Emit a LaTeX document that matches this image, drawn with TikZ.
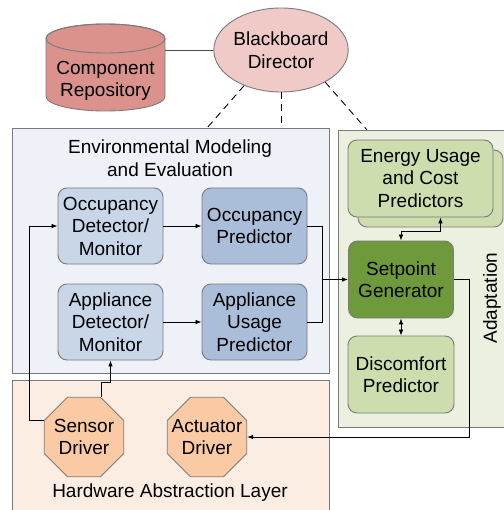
\documentclass[tikz,border=0pt]{standalone}
\usepackage{fontspec}
\setmainfont{Liberation Sans}
\usetikzlibrary{shapes.geometric,arrows.meta,calc}
\definecolor{repoC}{HTML}{DB928C}
\definecolor{bbC}{HTML}{F0CAC7}
\definecolor{emeC}{HTML}{EEF1F7}
\definecolor{detC}{HTML}{C8D6E8}
\definecolor{predC}{HTML}{AABEDA}
\definecolor{adaC}{HTML}{EBF0E0}
\definecolor{lgC}{HTML}{CDDDAD}
\definecolor{dgC}{HTML}{6E9A3C}
\definecolor{halC}{HTML}{FCEDE3}
\definecolor{octC}{HTML}{F9CAA3}
\definecolor{edgeC}{HTML}{7A7A7A}
\begin{document}
\begin{tikzpicture}[x=1pt,y=-1pt,
 every node/.style={font=\fontsize{19}{22.5}\selectfont, align=center, inner sep=0pt},
 panel/.style={draw=edgeC, line width=0.9pt, anchor=north west},
 rbox/.style={draw=edgeC, line width=0.9pt, rounded corners=9pt, minimum width=105pt, minimum height=76pt},
 oct/.style={regular polygon, regular polygon sides=8, minimum size=86pt, draw=edgeC, fill=octC, line width=0.9pt},
 arr/.style={-{Latex[length=6pt,width=4.5pt]}, line width=0.7pt},
 dbl/.style={{Latex[length=6pt,width=4.5pt]}-{Latex[length=6pt,width=4.5pt]}, line width=0.7pt},
 dline/.style={line width=0.9pt, dash pattern=on 7pt off 5pt},
 ]
\useasboundingbox (0,0) rectangle (503,510);

% panels
\node[panel, fill=emeC, minimum width=317pt, minimum height=245pt] (eme) at (12,128) {};
\node[panel, fill=adaC, minimum width=170pt, minimum height=297pt] (ada) at (338,130) {};
\node[panel, fill=halC, minimum width=317pt, minimum height=140pt] (hal) at (12,380) {};
\node (emet) at (170,158) {Environmental Modeling\\and Evaluation};
\node (halt) at (170,493) {Hardware Abstraction Layer};
\node[rotate=90] (adat) at (492,298) {Adaptation};

% repository cylinder
\fill[repoC, draw=edgeC, line width=0.9pt] (46,38.5) -- (46,96.5)
  arc[start angle=180, end angle=0, x radius=59.5, y radius=14.5] -- (165,38.5)
  arc[start angle=0, end angle=-180, x radius=59.5, y radius=14.5] -- cycle;
\draw[edgeC, line width=0.9pt] (105.5,38.5) ellipse[x radius=59.5, y radius=14.5];
\node[minimum width=119pt, minimum height=86pt] (repo) at (105.5,68) {};
\node (repot) at (105.5,81) {Component\\Repository};

% blackboard director
\node[ellipse, draw=edgeC, fill=bbC, line width=0.9pt, minimum width=124pt, minimum height=84pt] (bb) at (281,50) {Blackboard\\Director};
\draw[line width=0.8pt, edgeC!60!black] (bb.west) -- (bb.west -| repo.east);

\coordinate (d1) at (207,128);
\coordinate (d2) at (281,128);
\coordinate (d3) at (367,130);
\draw[dline] (bb.-136) -- (d1);
\draw[dline] (bb.south) -- (d2);
\draw[dline] (bb.-36) -- (d3);

% EME boxes
\node[rbox, fill=detC] (occdet) at (110.5,226) {Occupancy\\Detector/\\Monitor};
\node[rbox, fill=predC] (occpred) at (254.5,226) {Occupancy\\Predictor};
\node[rbox, fill=detC] (appdet) at (110.5,322) {Appliance\\Detector/\\Monitor};
\node[rbox, fill=predC] (apppred) at (254.5,322) {Appliance\\Usage\\Predictor};

% adaptation boxes
\node[rbox, fill=lgC, minimum width=145pt, minimum height=77pt] (energyb) at (430.5,188.5) {};
\node[rbox, fill=lgC, minimum width=145pt, minimum height=77pt] (energy) at (420.5,178.5) {Energy Usage\\and Cost\\Predictors};
\node[rbox, fill=dgC, minimum height=77pt] (setp) at (401,279.5) {Setpoint\\Generator};
\node[rbox, fill=lgC, minimum width=106pt, minimum height=77pt] (disc) at (401,374.5) {Discomfort\\Predictor};

% drivers
\node[oct, label={[name=sensort]center:Sensor\\Driver}] (sensor) at (84,437) {};
\node[oct, label={[name=actt]center:Actuator\\Driver}] (act) at (207,437) {};

% connectors
\draw[arr] (occdet) -- (occpred);
\draw[arr] (appdet) -- (apppred);
\draw[line width=0.7pt] (occpred.east) -- ++(15,0) |- (apppred.east);
\coordinate (j0) at ($(occpred.east)+(15,0)$);
\coordinate (j) at (j0 |- setp.west);
\draw[arr] (j) -- (setp.west);
\draw[arr] (setp.east) -- ++(15,0) |- (act.east);
\draw[dbl] (setp.north) -- ++(0,-9) -| ($(energy.south)+(20,0)$);
\draw[dbl] (setp.south) -- (disc.north);
\draw[arr] (sensor.corner 3) -- ++(-14,0) |- (occdet.west);
\draw[arr] ($(sensor.north)+(17,0)$) -- ++(0,-14) -| (appdet.south);
\end{tikzpicture}
\end{document}
